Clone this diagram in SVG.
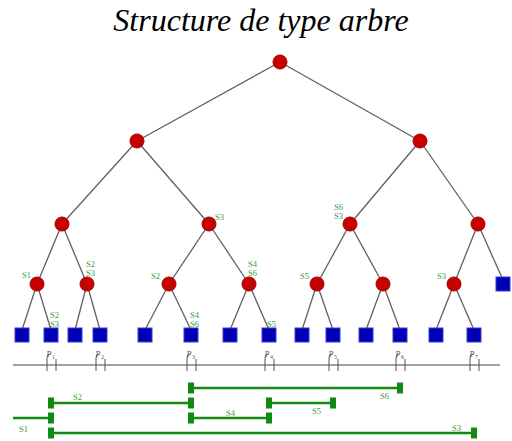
<svg xmlns="http://www.w3.org/2000/svg" width="512" height="441" viewBox="0 0 512 441">
  <style>
    .title { font-family: "Liberation Serif", "DejaVu Serif", serif; font-style: italic; font-size: 32px; fill: #000; }
    .edge { stroke: #606060; stroke-width: 1.3; fill: none; }
    .inner { fill: #c80000; stroke: #a00000; stroke-width: 1; }
    .leaf { fill: #0000b4; stroke: #3a3ad0; stroke-width: 1; }
    .lab { font-family: "Liberation Serif", "DejaVu Serif", serif; font-size: 8.5px; fill: #3c9a3c; }
    .axis { stroke: #808080; stroke-width: 1.5; }
    .tick { stroke: #505050; stroke-width: 1; fill: none; }
    .pt { font-family: "Liberation Serif", "DejaVu Serif", serif; font-size: 9px; fill: #505050; }
    .ps { font-family: "Liberation Serif", "DejaVu Serif", serif; font-size: 6px; fill: #505050; }
    .seg { stroke: #108a10; stroke-width: 2.5; }
    .cap { fill: #108a10; }
  </style>
  <defs>
    <rect id="capR" class="cap" x="-3" y="-5.5" width="6" height="11"/>
    <g id="pmark">
      <path class="tick" d="M-4,371 V358 Q-4,354 -1,354 M5,371 V359"/>
    </g>
  </defs>

  <text class="title" x="261" y="31" text-anchor="middle">Structure de type arbre</text>

  <!-- tree edges -->
  <g id="connectors">
    <line class="edge" x1="280" y1="62" x2="137" y2="141"/>
    <line class="edge" x1="280" y1="62" x2="420" y2="141"/>
    <line class="edge" x1="137" y1="141" x2="62" y2="224"/>
    <line class="edge" x1="137" y1="141" x2="209" y2="224"/>
    <line class="edge" x1="420" y1="141" x2="350" y2="224"/>
    <line class="edge" x1="420" y1="141" x2="478" y2="224"/>
    <line class="edge" x1="62" y1="224" x2="37" y2="284"/>
    <line class="edge" x1="62" y1="224" x2="87" y2="284"/>
    <line class="edge" x1="209" y1="224" x2="169" y2="284"/>
    <line class="edge" x1="209" y1="224" x2="249" y2="284"/>
    <line class="edge" x1="350" y1="224" x2="317" y2="284"/>
    <line class="edge" x1="350" y1="224" x2="383" y2="284"/>
    <line class="edge" x1="478" y1="224" x2="454" y2="284"/>
    <line class="edge" x1="478" y1="224" x2="503" y2="280"/>
    <line class="edge" x1="37" y1="284" x2="22" y2="330"/>
    <line class="edge" x1="37" y1="284" x2="51" y2="330"/>
    <line class="edge" x1="87" y1="284" x2="75" y2="330"/>
    <line class="edge" x1="87" y1="284" x2="100" y2="330"/>
    <line class="edge" x1="169" y1="284" x2="145" y2="330"/>
    <line class="edge" x1="169" y1="284" x2="191" y2="330"/>
    <line class="edge" x1="249" y1="284" x2="230" y2="330"/>
    <line class="edge" x1="249" y1="284" x2="269" y2="330"/>
    <line class="edge" x1="317" y1="284" x2="302" y2="330"/>
    <line class="edge" x1="317" y1="284" x2="333" y2="330"/>
    <line class="edge" x1="383" y1="284" x2="366" y2="330"/>
    <line class="edge" x1="383" y1="284" x2="400" y2="330"/>
    <line class="edge" x1="454" y1="284" x2="436" y2="330"/>
    <line class="edge" x1="454" y1="284" x2="474" y2="330"/>
  </g>

  <!-- internal nodes -->
  <g id="n-root"><circle class="inner" cx="280" cy="62" r="7"/></g>
  <g id="n-l"><circle class="inner" cx="137" cy="141" r="7"/></g>
  <g id="n-r"><circle class="inner" cx="420" cy="141" r="7"/></g>
  <g id="n-ll"><circle class="inner" cx="62" cy="224" r="7"/></g>
  <g id="n-lr"><circle class="inner" cx="209" cy="224" r="7"/><text class="lab" x="215" y="220">S3</text></g>
  <g id="n-rl"><circle class="inner" cx="350" cy="224" r="7"/><text class="lab" x="334" y="210">S6</text><text class="lab" x="334" y="219">S3</text></g>
  <g id="n-rr"><circle class="inner" cx="478" cy="224" r="7"/></g>
  <g id="n-lll"><circle class="inner" cx="37" cy="284" r="7"/><text class="lab" x="22" y="278">S1</text></g>
  <g id="n-llr"><circle class="inner" cx="87" cy="284" r="7"/><text class="lab" x="86" y="267">S2</text><text class="lab" x="86" y="276">S3</text></g>
  <g id="n-lrl"><circle class="inner" cx="169" cy="284" r="7"/><text class="lab" x="151" y="279">S2</text></g>
  <g id="n-lrr"><circle class="inner" cx="249" cy="284" r="7"/><text class="lab" x="248" y="267">S4</text><text class="lab" x="248" y="276">S6</text></g>
  <g id="n-rll"><circle class="inner" cx="317" cy="284" r="7"/><text class="lab" x="300" y="279">S5</text></g>
  <g id="n-rlr"><circle class="inner" cx="383" cy="284" r="7"/></g>
  <g id="n-rrl"><circle class="inner" cx="454" cy="284" r="7"/><text class="lab" x="437" y="279">S3</text></g>
  <g id="n-rrr"><rect class="leaf" x="496" y="277" width="14" height="14"/></g>

  <!-- leaves -->
  <g id="leaf1"><rect class="leaf" x="15" y="328" width="14" height="14"/></g>
  <g id="leaf2"><rect class="leaf" x="44" y="328" width="14" height="14"/><text class="lab" x="50" y="318">S2</text><text class="lab" x="50" y="327">S3</text></g>
  <g id="leaf3"><rect class="leaf" x="68" y="328" width="14" height="14"/></g>
  <g id="leaf4"><rect class="leaf" x="93" y="328" width="14" height="14"/></g>
  <g id="leaf5"><rect class="leaf" x="138" y="328" width="14" height="14"/></g>
  <g id="leaf6"><rect class="leaf" x="184" y="328" width="14" height="14"/><text class="lab" x="190" y="318">S4</text><text class="lab" x="190" y="327">S6</text></g>
  <g id="leaf7"><rect class="leaf" x="223" y="328" width="14" height="14"/></g>
  <g id="leaf8"><rect class="leaf" x="262" y="328" width="14" height="14"/><text class="lab" x="267" y="327">S5</text></g>
  <g id="leaf9"><rect class="leaf" x="295" y="328" width="14" height="14"/></g>
  <g id="leaf10"><rect class="leaf" x="326" y="328" width="14" height="14"/></g>
  <g id="leaf11"><rect class="leaf" x="359" y="328" width="14" height="14"/></g>
  <g id="leaf12"><rect class="leaf" x="393" y="328" width="14" height="14"/></g>
  <g id="leaf13"><rect class="leaf" x="429" y="328" width="14" height="14"/></g>
  <g id="leaf14"><rect class="leaf" x="467" y="328" width="14" height="14"/></g>

  <!-- point axis -->
  <g id="axis">
    <line class="axis" x1="13" y1="365" x2="500" y2="365"/>
    <use href="#pmark" x="51" y="0"/><text class="pt" x="47" y="355">p</text><text class="ps" x="52" y="359">1</text>
    <use href="#pmark" x="100" y="0"/><text class="pt" x="96" y="355">p</text><text class="ps" x="101" y="359">2</text>
    <use href="#pmark" x="191" y="0"/><text class="pt" x="187" y="355">p</text><text class="ps" x="192" y="359">3</text>
    <use href="#pmark" x="269" y="0"/><text class="pt" x="265" y="355">p</text><text class="ps" x="270" y="359">4</text>
    <use href="#pmark" x="333" y="0"/><text class="pt" x="329" y="355">p</text><text class="ps" x="334" y="359">5</text>
    <use href="#pmark" x="400" y="0"/><text class="pt" x="396" y="355">p</text><text class="ps" x="401" y="359">6</text>
    <use href="#pmark" x="474" y="0"/><text class="pt" x="470" y="355">p</text><text class="ps" x="475" y="359">7</text>
  </g>

  <!-- segments -->
  <g id="seg-s6">
    <line class="seg" x1="191" y1="388" x2="400" y2="388"/>
    <use href="#capR" x="191" y="388"/><use href="#capR" x="400" y="388"/>
    <text class="lab" x="380" y="399">S6</text>
  </g>
  <g id="seg-s2">
    <line class="seg" x1="51" y1="403" x2="191" y2="403"/>
    <use href="#capR" x="51" y="403"/><use href="#capR" x="191" y="403"/>
    <text class="lab" x="73" y="400">S2</text>
  </g>
  <g id="seg-s5">
    <line class="seg" x1="269" y1="403" x2="333" y2="403"/>
    <use href="#capR" x="269" y="403"/><use href="#capR" x="333" y="403"/>
    <text class="lab" x="312" y="414">S5</text>
  </g>
  <g id="seg-s1">
    <line class="seg" x1="13" y1="418" x2="51" y2="418"/>
    <use href="#capR" x="51" y="418"/>
    <text class="lab" x="19" y="432">S1</text>
  </g>
  <g id="seg-s4">
    <line class="seg" x1="191" y1="418" x2="269" y2="418"/>
    <use href="#capR" x="191" y="418"/><use href="#capR" x="269" y="418"/>
    <text class="lab" x="226" y="416">S4</text>
  </g>
  <g id="seg-s3">
    <line class="seg" x1="51" y1="433" x2="474" y2="433"/>
    <use href="#capR" x="51" y="433"/><use href="#capR" x="474" y="433"/>
    <text class="lab" x="452" y="431">S3</text>
  </g>
</svg>
